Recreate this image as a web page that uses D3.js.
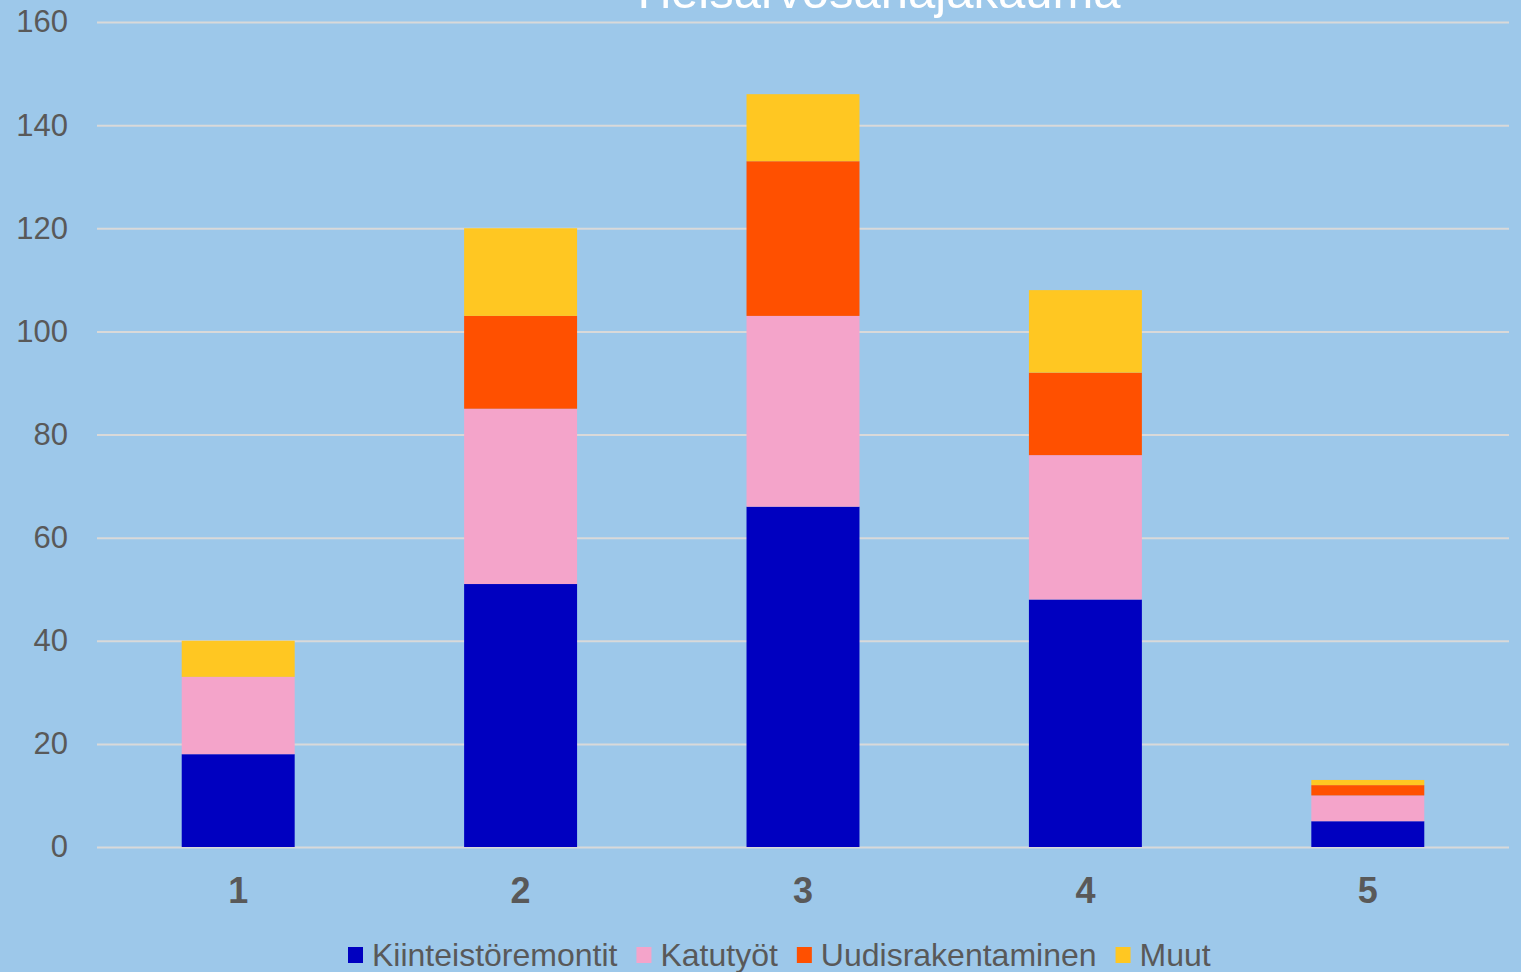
<!DOCTYPE html>
<html>
<head>
<meta charset="utf-8">
<script src="https://cdn.jsdelivr.net/npm/d3@7"></script>
<style>
  html, body { margin: 0; padding: 0; background: #9dc8ea; overflow: hidden; }
  svg { display: block; font-family: Arial, "Liberation Sans", sans-serif; }
</style>
</head>
<body>
<svg id="chart" width="1521" height="972"></svg>
<script>
// data
const categories = ["1", "2", "3", "4", "5"];
const seriesNames = ["Kiinteistöremontit", "Katutyöt", "Uudisrakentaminen", "Muut"];
const kiinteistoremontit = [18, 51, 66, 48, 5];
const katutyot = [15, 34, 37, 28, 5];
const uudisrakentaminen = [0, 18, 30, 16, 2];
const muut = [7, 17, 13, 16, 1];
const yTicks = [0, 20, 40, 60, 80, 100, 120, 140, 160];
const title = "Yleisarvosanajakauma";

const colors = ["#0000c0", "#f4a4ca", "#ff5000", "#ffc722"];
const textColor = "#595959";

const width = 1521, height = 972;
const margin = {top: 22, right: 12, bottom: 125, left: 97};

// table for the stack
const table = categories.map((c, i) => ({
  cat: c,
  [seriesNames[0]]: kiinteistoremontit[i],
  [seriesNames[1]]: katutyot[i],
  [seriesNames[2]]: uudisrakentaminen[i],
  [seriesNames[3]]: muut[i]
}));
const stacked = d3.stack().keys(seriesNames)(table);

const x = d3.scaleBand(categories, [margin.left, width - margin.right]).paddingInner(0.6).paddingOuter(0.3);
const y = d3.scaleLinear([0, 160], [height - margin.bottom, margin.top]);

const svg = d3.select("#chart");

// gridlines + y labels
const yAxis = d3.axisLeft(y).tickValues(yTicks).tickSize(-(width - margin.right - margin.left)).tickPadding(29);
svg.append("g")
  .attr("transform", `translate(${margin.left},0)`)
  .call(yAxis)
  .call(g => g.select(".domain").remove())
  .call(g => g.selectAll(".tick line").attr("stroke", "#d9d9d9").attr("stroke-width", 2))
  .call(g => g.selectAll(".tick text")
    .attr("fill", textColor)
    .style("font-size", "31px")
    .style("font-family", "Arial, 'Liberation Sans', sans-serif"));

// bars
svg.append("g")
  .selectAll("g")
  .data(stacked)
  .join("g")
  .attr("fill", (d, i) => colors[i])
  .selectAll("rect")
  .data(d => d)
  .join("rect")
  .attr("x", d => x(d.data.cat))
  .attr("y", d => y(d[1]))
  .attr("width", x.bandwidth())
  .attr("height", d => y(d[0]) - y(d[1]));

// x labels
const xAxis = d3.axisBottom(x).tickSize(0).tickPadding(30);
svg.append("g")
  .attr("transform", `translate(0,${y(0)})`)
  .call(xAxis)
  .call(g => g.select(".domain").remove())
  .call(g => g.selectAll(".tick text")
    .attr("fill", textColor)
    .style("font-size", "36px")
    .style("font-weight", "bold")
    .style("font-family", "Arial, 'Liberation Sans', sans-serif"));

// title, mostly cut off at the top as in the reference
svg.append("text")
  .attr("x", 874)
  .attr("y", 8)
  .attr("text-anchor", "middle")
  .attr("fill", "#ffffff")
  .style("font-size", "49px")
  .text(title);

// legend
const legend = svg.append("g").attr("transform", `translate(0,955)`);
const items = legend.selectAll("g").data(seriesNames).join("g");
items.append("rect")
  .attr("y", -8).attr("width", 15).attr("height", 16)
  .attr("fill", (d, i) => colors[i]);
items.append("text")
  .attr("x", 24).attr("dy", "0.35em")
  .attr("fill", textColor)
  .style("font-size", "32px")
  .text(d => d);
let lx = 348;
items.each(function () {
  const w = d3.select(this).select("text").node().getComputedTextLength();
  d3.select(this).attr("transform", `translate(${lx},0)`);
  lx += 24 + w + 19;
});
</script>
</body>
</html>
